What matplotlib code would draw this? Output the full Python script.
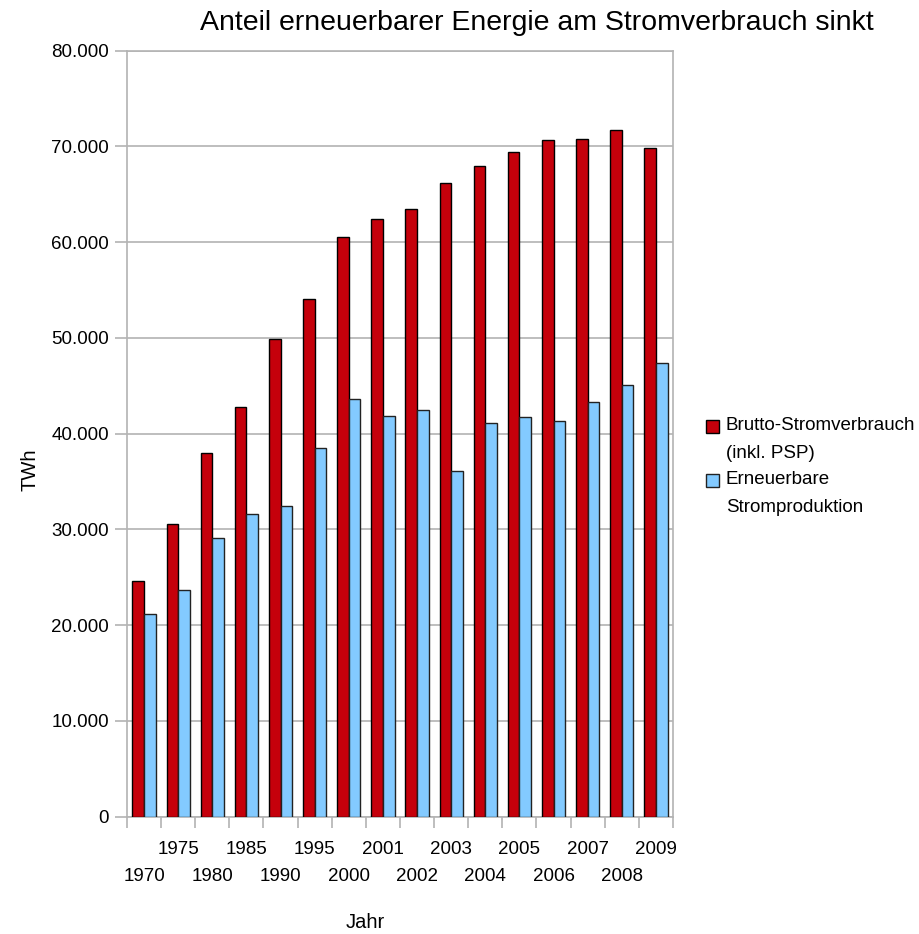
import matplotlib
matplotlib.use("Agg")
import matplotlib.pyplot as plt
import numpy as np
from matplotlib.ticker import FuncFormatter, MultipleLocator, FixedLocator
from matplotlib.patches import Rectangle

plt.rcParams['font.family'] = ['Liberation Sans', 'DejaVu Sans']

years = ["1970", "1975", "1980", "1985", "1990", "1995", "2000", "2001",
         "2002", "2003", "2004", "2005", "2006", "2007", "2008", "2009"]
brutto = [24600, 30600, 37950, 42800, 49900, 54100, 60500, 62400,
          63500, 66200, 68000, 69400, 70700, 70800, 71700, 69800]
erneuerbar = [21170, 23700, 29100, 31600, 32500, 38500, 43600, 41800,
              42500, 36100, 41100, 41700, 41300, 43300, 45100, 47400]
series_labels = [["Brutto-Stromverbrauch", "(inkl. PSP)"], ["Erneuerbare", "Stromproduktion"]]
series_colors = ["#c5000b", "#83caff"]
series_edges = ["black", "#222222"]
title = "Anteil erneuerbarer Energie am Stromverbrauch sinkt"

W, H = 920, 934
fig = plt.figure(figsize=(9.2, 9.34), dpi=100)
ax = fig.add_axes([0.138, 0.1256, 0.5935, 0.8201])

x = np.arange(len(years))
w = 0.34
grid_c = "#b3b3b3"
ax.bar(x - w/2, brutto, width=w, color=series_colors[0], edgecolor=series_edges[0], linewidth=1.0, zorder=3)
ax.bar(x + w/2, erneuerbar, width=w, color=series_colors[1], edgecolor=series_edges[1], linewidth=1.0, zorder=3)

ax.set_xlim(-0.5, len(years) - 0.5)
ax.set_ylim(0, 80000)
ax.yaxis.set_major_locator(MultipleLocator(10000))
ax.yaxis.set_major_formatter(FuncFormatter(lambda v, p: "0" if v == 0 else f"{int(v):,}".replace(",", ".")))
ax.grid(axis="y", color=grid_c, linewidth=1.2, zorder=0)
ax.set_axisbelow(True)

for s in ax.spines.values():
    s.set_color(grid_c)
    s.set_linewidth(1.2)

ax.xaxis.set_minor_locator(FixedLocator(np.arange(-0.5, len(years), 1.0)))
ax.set_xticks(x)
ax.set_xticklabels([])
ax.tick_params(axis="x", which="major", length=0)
ax.tick_params(axis="x", which="minor", length=8, color=grid_c, width=1.2)
ax.tick_params(axis="y", which="major", length=9, color=grid_c, width=1.2, labelsize=13.5, pad=4)

for i, lab in enumerate(years):
    yoff = -33 if i % 2 == 1 else -60
    ax.annotate(lab, xy=(i, 0), xycoords=("data", "axes fraction"),
                xytext=(0, yoff), textcoords="offset pixels",
                ha="center", va="center", fontsize=13.5)

fig.text(365/W, 1 - 922/H, "Jahr", ha="center", va="center", fontsize=14.5)
fig.text(30/W, 1 - 470/H, "TWh", ha="center", va="center", rotation=90, fontsize=14.5)
fig.text(537/W, 1 - 23/H, title, ha="center", va="center", fontsize=20.5)

# legend (handles aligned with first text line, as in the original)
sq_x0, sq = 706.5, 13
entry_top = [426, 480]
line_gap = 27
for k in range(2):
    yc = entry_top[k]
    fig.add_artist(Rectangle((sq_x0/W, 1 - (yc + sq/2)/H), sq/W, sq/H,
                             transform=fig.transFigure, facecolor=series_colors[k],
                             edgecolor=series_edges[k], linewidth=1.0))
    for j, line in enumerate(series_labels[k]):
        fig.text(726/W, 1 - (yc + j*line_gap)/H, line, ha="left", va="center", fontsize=13.5)

fig.savefig("out.png", dpi=100)
